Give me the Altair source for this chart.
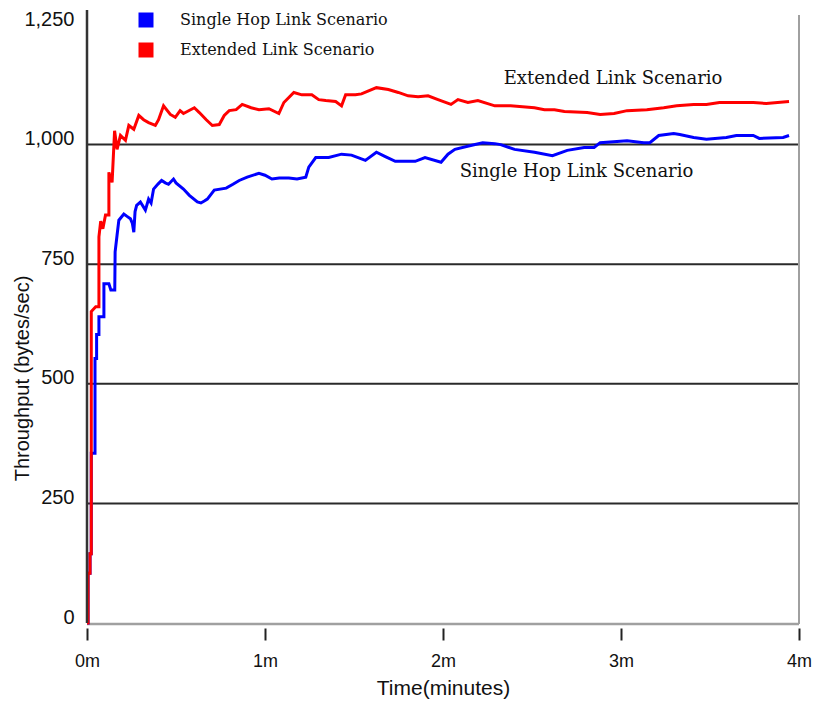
import altair as alt
import pandas as pd

# ---- data ----
series_names = ["Single Hop Link Scenario", "Extended Link Scenario"]
series_colors = ["#0000FF", "#FF0000"]

blue_t = [0.000, 0.006, 0.006, 0.017, 0.017, 0.024, 0.024, 0.045, 0.045, 0.054, 0.054, 0.067, 0.067, 0.095, 0.095,
          0.123, 0.134, 0.156, 0.158, 0.169, 0.179, 0.207, 0.225, 0.244, 0.255, 0.263, 0.270, 0.279, 0.300, 0.328,
          0.346, 0.360, 0.374, 0.400, 0.419, 0.440, 0.458, 0.486, 0.500, 0.542, 0.575, 0.620, 0.640, 0.659, 0.676,
          0.715, 0.782, 0.820, 0.855, 0.900, 0.966, 1.000, 1.039, 1.080, 1.134, 1.180, 1.229, 1.246, 1.285, 1.358,
          1.430, 1.486, 1.564, 1.626, 1.676, 1.732, 1.844, 1.899, 1.989, 2.028, 2.067, 2.156, 2.223, 2.291, 2.324,
          2.402, 2.514, 2.615, 2.698, 2.793, 2.849, 2.883, 3.034, 3.128, 3.162, 3.212, 3.296, 3.330, 3.408, 3.480,
          3.592, 3.648, 3.743, 3.777, 3.911, 3.944]
blue_v = [0, 0, 104, 104, 145, 145, 355, 355, 553, 553, 603, 603, 640, 640, 709,
          709, 696, 696, 776, 811, 842, 855, 850, 845, 835, 817, 860, 873, 880, 863,
          886, 878, 907, 918, 925, 920, 917, 928, 920, 907, 894, 880, 878, 882, 886,
          905, 909, 917, 925, 932, 940, 936, 928, 930, 930, 928, 932, 953, 973, 973,
          980, 978, 967, 984, 975, 965, 965, 973, 963, 980, 990, 998, 1004, 1002, 1000,
          990, 984, 977, 988, 994, 994, 1004, 1008, 1004, 1004, 1019, 1023, 1021, 1015, 1011,
          1015, 1019, 1019, 1013, 1015, 1019]

red_t = [0.000, 0.006, 0.006, 0.017, 0.017, 0.024, 0.024, 0.049, 0.067, 0.067, 0.077, 0.089, 0.104, 0.123, 0.123,
         0.141, 0.155, 0.169, 0.188, 0.216, 0.235, 0.263, 0.291, 0.318, 0.346, 0.384, 0.402, 0.430, 0.468, 0.496,
         0.523, 0.542, 0.603, 0.631, 0.670, 0.704, 0.743, 0.771, 0.799, 0.838, 0.872, 0.922, 0.966, 1.022, 1.078,
         1.106, 1.162, 1.207, 1.263, 1.302, 1.341, 1.397, 1.430, 1.453, 1.508, 1.542, 1.626, 1.693, 1.749, 1.804,
         1.860, 1.916, 1.972, 2.045, 2.084, 2.140, 2.196, 2.291, 2.380, 2.514, 2.570, 2.626, 2.682, 2.810, 2.883,
         2.961, 3.034, 3.145, 3.240, 3.313, 3.408, 3.480, 3.553, 3.743, 3.816, 3.944]
red_v = [0, 0, 104, 104, 145, 145, 651, 661, 661, 807, 840, 824, 853, 853, 942,
         921, 1029, 990, 1019, 1009, 1040, 1032, 1061, 1052, 1046, 1040, 1052, 1081, 1063, 1057,
         1071, 1065, 1077, 1067, 1052, 1040, 1042, 1061, 1071, 1073, 1084, 1077, 1073, 1075, 1065,
         1088, 1109, 1104, 1104, 1094, 1092, 1090, 1081, 1104, 1104, 1106, 1119, 1115, 1109, 1102,
         1100, 1102, 1094, 1084, 1094, 1088, 1092, 1081, 1081, 1077, 1073, 1073, 1069, 1067, 1063,
         1065, 1071, 1073, 1077, 1081, 1084, 1084, 1088, 1088, 1086, 1090]

x_ticks = [0, 1, 2, 3, 4]
y_ticks = [0, 250, 500, 750, 1000, 1250]
grid_values = [250, 500, 750, 1000]

annot_text = ["Extended Link Scenario", "Single Hop Link Scenario"]
annot_t = [2.955, 2.750]
annot_v = [1138, 942]

# ---- tables ----
df = pd.concat([
    pd.DataFrame({"t": blue_t, "v": blue_v, "series": series_names[0], "i": range(len(blue_t))}),
    pd.DataFrame({"t": red_t, "v": red_v, "series": series_names[1], "i": range(len(red_t))}),
])
grid_df = pd.DataFrame({"v": grid_values})
annot_df = pd.DataFrame({"text": annot_text, "t": annot_t, "v": annot_v})
one = pd.DataFrame({"a": [0]})

W, H = 712, 598
SANS = "Liberation Sans, Arial, sans-serif"
SERIF = "DejaVu Serif, serif"

xscale = alt.Scale(domain=[0, 4], nice=False, zero=False)
yscale = alt.Scale(domain=[0, 1250], nice=False)

grid = alt.Chart(grid_df).mark_rule(color="#2a2a2a", strokeWidth=2).encode(
    y=alt.Y("v:Q", scale=yscale)
)

lines = alt.Chart(df).mark_line(strokeWidth=3, interpolate="linear").encode(
    x=alt.X("t:Q", scale=xscale,
            axis=alt.Axis(values=x_ticks, labelExpr="datum.value + 'm'", domain=False, grid=False,
                          labelFlush=False, labelOverlap=False,
                          tickSize=12, tickWidth=2, tickColor="#222", offset=5,
                          labelFont=SANS, labelFontSize=18, labelColor="#111", labelPadding=12,
                          title="Time(minutes)", titleFont=SANS, titleFontSize=21,
                          titleFontWeight="normal", titleColor="#111", titlePadding=7)),
    y=alt.Y("v:Q", scale=yscale,
            axis=alt.Axis(values=y_ticks, format=",d", domain=False, grid=False, ticks=False,
                          labelFlush=False, labelOverlap=False,
                          labelFont=SANS, labelFontSize=20, labelColor="#111", labelPadding=13,
                          labelBaseline="alphabetic",
                          title="Throughput (bytes/sec)", titleFont=SANS, titleFontSize=20,
                          titleFontWeight="normal", titleColor="#111",
                          titleX=-65, titleY=353, titleAngle=270,
                          titleAlign="center", titleBaseline="middle")),
    color=alt.Color("series:N",
                    scale=alt.Scale(domain=series_names, range=series_colors),
                    legend=alt.Legend(title=None, orient="none", legendX=51, legendY=-13,
                                      direction="vertical", symbolType="square",
                                      symbolSize=49, symbolStrokeWidth=8,
                                      labelFont=SERIF, labelFontSize=16, labelColor="#111",
                                      labelLimit=0, labelOffset=26, rowPadding=-10, padding=0)),
    order=alt.Order("i:Q"),
)

annots = alt.Chart(annot_df).mark_text(font=SERIF, fontSize=18, color="#111",
                                       align="center", baseline="middle").encode(
    x=alt.X("t:Q", scale=xscale), y=alt.Y("v:Q", scale=yscale), text="text:N"
)

left_line = alt.Chart(one).mark_rule(color="#333", strokeWidth=2.5).encode(
    x=alt.value(0), y=alt.value(-15), y2=alt.value(H)
)
bottom_line = alt.Chart(one).mark_rule(color="#a0a0a0", strokeWidth=2.5).encode(
    y=alt.value(H + 1), x=alt.value(0), x2=alt.value(W)
)
right_line = alt.Chart(one).mark_rule(color="#a0a0a0", strokeWidth=2).encode(
    x=alt.value(W), y=alt.value(-10), y2=alt.value(H + 1)
)

chart = alt.layer(grid, bottom_line, right_line, lines, annots, left_line).properties(
    width=W, height=H,
    autosize=alt.AutoSizeParams(type="none"),
    padding={"left": 79, "top": 17, "right": 13, "bottom": 80},
    background="white",
).configure_view(stroke=None)

chart.save("out.html", embed_options={"renderer": "svg", "actions": False})
